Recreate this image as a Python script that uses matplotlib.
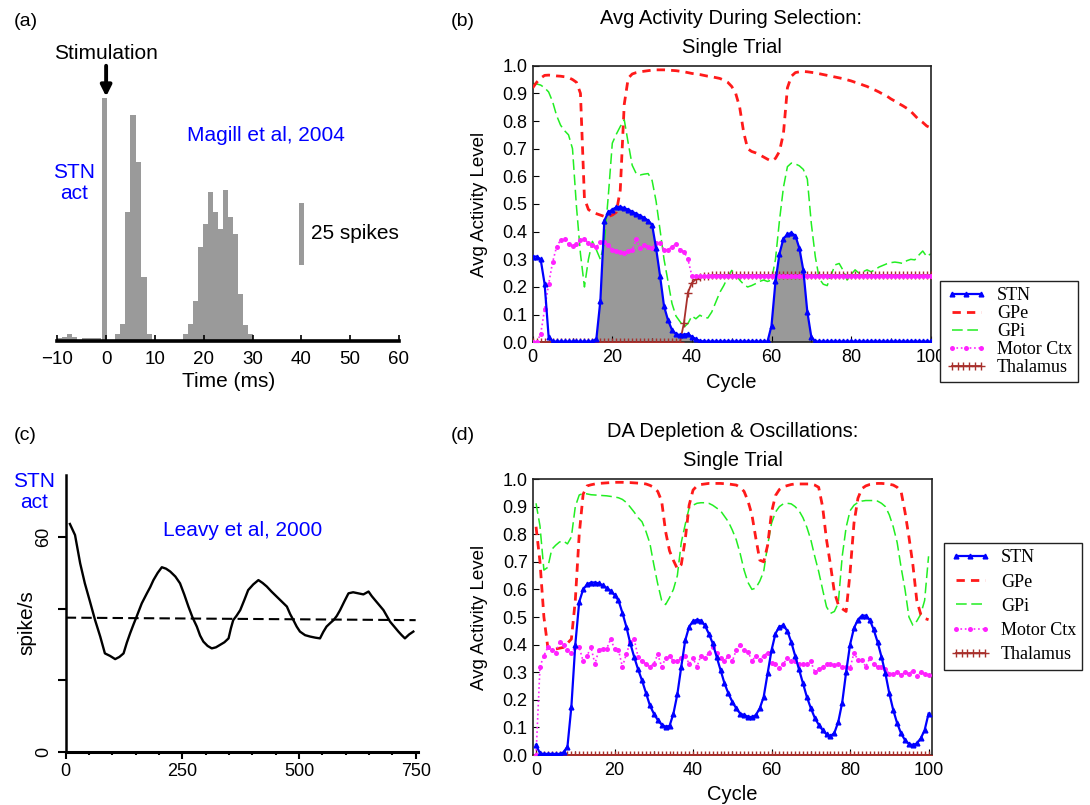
import matplotlib
matplotlib.use('Agg')
import matplotlib.pyplot as plt
from matplotlib.legend_handler import HandlerLine2D
from matplotlib.ticker import FixedLocator
import numpy as np

plt.rcParams['font.family'] = ['Liberation Sans', 'DejaVu Sans']
plt.rcParams['axes.unicode_minus'] = True

# ---------------- Data ----------------
# (a) Magill et al 2004 histogram (ms, spikes)
hist_time = [-9.5, -8.5, -7.5, -6.5, -5.5, -4.5, -3.5, -2.5, -1.5, -0.35, 0.8, 1.5,
             2.3, 3.3, 4.35, 5.5, 6.7, 7.75, 8.8,
             16.28, 17.3, 18.33, 19.35, 20.38, 21.4, 22.4, 23.45, 24.47, 25.5, 26.5,
             27.55, 28.57, 29.6]
hist_counts = [1.3, 1.5, 3.0, 1.5, 0.5, 1.3, 1.3, 1.3, 1.3, 98, 0.6, 0.6,
               3, 7, 52, 91, 72, 26, 3,
               3, 7, 16, 38, 47, 60, 52, 45, 61, 50, 43, 19, 6.3, 3]
time_ticks = [-10, 0, 10, 20, 30, 40, 50, 60]
scale_bar_spikes = 25

# (c) Leavy et al 2000
leavy_t = [9, 20, 31, 41, 52, 63, 74, 84, 95, 106, 115, 124, 131, 138, 145, 152, 163, 174,
           181, 188, 197, 206, 215, 224, 235, 245, 254, 263, 272, 281, 288, 295, 304, 313,
           322, 331, 340, 349, 354, 359, 366, 374, 383, 391, 402, 413, 422, 431, 441, 452,
           463, 474, 481, 488, 495, 502, 513, 524, 535, 545, 552, 559, 567, 574, 581, 588,
           597, 606, 616, 627, 638, 649, 656, 663, 672, 681, 688, 695, 704, 713, 720, 727,
           736, 745]
leavy_rate = [63.7, 60.6, 52.7, 47.1, 42.0, 36.8, 32.2, 27.5, 26.8, 25.9, 26.5, 27.5, 30.5,
              33.1, 35.5, 37.8, 41.5, 44.3, 46.0, 48.0, 50.0, 51.6, 51.2, 50.4, 49.0, 47.1,
              44.0, 40.6, 37.5, 35.0, 32.5, 30.8, 29.6, 28.9, 29.2, 29.9, 30.6, 31.7, 34.5,
              36.8, 38.0, 39.6, 42.5, 45.2, 46.8, 48.0, 47.2, 46.2, 44.8, 43.4, 42.0, 40.6,
              38.5, 36.8, 35.0, 33.6, 32.6, 32.2, 31.9, 31.7, 33.5, 35.0, 36.0, 36.8, 38.0,
              39.6, 42.0, 44.3, 44.6, 44.3, 44.0, 44.8, 43.5, 42.4, 41.0, 39.6, 38.0, 36.4,
              35.0, 33.6, 32.6, 31.7, 32.8, 33.6]
baseline_t = [0, 750]
baseline_rate = [37.5, 36.8]

# (b) Avg activity during selection (cycles 0..100)
cycles = list(range(101))
sel_stn = [0.31, 0.31, 0.30, 0.21, 0.02] + [0.003] * 11 + \
    [0.013, 0.15, 0.44, 0.47, 0.48, 0.488, 0.49, 0.485, 0.48, 0.472, 0.465, 0.458, 0.45,
     0.44, 0.425, 0.34, 0.24, 0.13, 0.08, 0.045, 0.03, 0.026, 0.028, 0.03, 0.02, 0.012,
     0.005] + [0.003] * 17 + \
    [0.06, 0.22, 0.32, 0.375, 0.39, 0.396, 0.385, 0.34, 0.26, 0.11, 0.02] + [0.003] * 30
sel_gpe = [0.92, 0.94, 0.955, 0.965, 0.966, 0.965, 0.963, 0.962, 0.96, 0.957, 0.95, 0.94,
           0.90, 0.52, 0.48, 0.47, 0.465, 0.46, 0.455, 0.455, 0.46, 0.47, 0.55, 0.86, 0.955,
           0.97, 0.975, 0.978, 0.98, 0.982, 0.984, 0.985, 0.985, 0.985, 0.984, 0.983, 0.982,
           0.98, 0.978, 0.975, 0.972, 0.97, 0.968, 0.965, 0.962, 0.96, 0.957, 0.954, 0.948,
           0.94, 0.925, 0.90, 0.85, 0.76, 0.70, 0.69, 0.685, 0.678, 0.67, 0.662, 0.655, 0.665,
           0.69, 0.755, 0.92, 0.962, 0.975, 0.978, 0.979, 0.978, 0.976, 0.974, 0.971, 0.968,
           0.965, 0.962, 0.959, 0.956, 0.953, 0.949, 0.945, 0.94, 0.936, 0.93, 0.925, 0.918,
           0.912, 0.905, 0.897, 0.89, 0.88, 0.872, 0.863, 0.855, 0.846, 0.835, 0.82, 0.805,
           0.795, 0.782, 0.775]
sel_gpi = [0.936, 0.934, 0.93, 0.92, 0.905, 0.87, 0.82, 0.785, 0.765, 0.75, 0.70, 0.49, 0.32,
           0.20, 0.30, 0.365, 0.334, 0.30, 0.36, 0.53, 0.72, 0.752, 0.78, 0.805, 0.72, 0.64,
           0.61, 0.605, 0.608, 0.61, 0.585, 0.51, 0.406, 0.30, 0.22, 0.14, 0.095, 0.075, 0.055,
           0.068, 0.095, 0.085, 0.098, 0.09, 0.088, 0.11, 0.145, 0.18, 0.205, 0.235, 0.26,
           0.245, 0.225, 0.21, 0.20, 0.205, 0.212, 0.22, 0.225, 0.22, 0.225, 0.30, 0.44, 0.56,
           0.635, 0.648, 0.645, 0.638, 0.625, 0.59, 0.43, 0.31, 0.23, 0.21, 0.205, 0.245, 0.28,
           0.285, 0.26, 0.225, 0.245, 0.262, 0.25, 0.255, 0.262, 0.255, 0.262, 0.272, 0.278,
           0.284, 0.288, 0.29, 0.288, 0.285, 0.295, 0.30, 0.298, 0.315, 0.33, 0.31, 0.32]
sel_motor = [0.0, 0.0, 0.03, 0.12, 0.21, 0.29, 0.345, 0.37, 0.375, 0.355, 0.348, 0.355, 0.37,
             0.372, 0.36, 0.35, 0.345, 0.362, 0.364, 0.35, 0.335, 0.33, 0.328, 0.322, 0.33,
             0.333, 0.372, 0.34, 0.352, 0.346, 0.34, 0.36, 0.36, 0.334, 0.334, 0.346, 0.355,
             0.334, 0.328, 0.30, 0.24] + [0.24] * 60
sel_thal = [0.0] * 38 + [0.07, 0.18, 0.215, 0.228, 0.235, 0.238, 0.24] + [0.242] * 56

# (d) DA depletion & oscillations (cycles 0..100)
da_stn = [0.036, 0.006, 0.004, 0.004, 0.004, 0.004, 0.004, 0.01, 0.03, 0.175, 0.40, 0.555,
          0.60, 0.618, 0.625, 0.625, 0.622, 0.615, 0.605, 0.595, 0.58, 0.56, 0.515, 0.465,
          0.405, 0.355, 0.31, 0.27, 0.225, 0.18, 0.15, 0.127, 0.11, 0.103, 0.105, 0.15, 0.22,
          0.32, 0.415, 0.465, 0.485, 0.49, 0.487, 0.47, 0.44, 0.405, 0.356, 0.308, 0.26,
          0.223, 0.193, 0.169, 0.15, 0.145, 0.139, 0.137, 0.145, 0.169, 0.211, 0.296, 0.38,
          0.44, 0.465, 0.47, 0.45, 0.41, 0.36, 0.31, 0.26, 0.21, 0.17, 0.135, 0.11, 0.09,
          0.075, 0.068, 0.08, 0.12, 0.19, 0.30, 0.40, 0.46, 0.49, 0.505, 0.505, 0.49, 0.455,
          0.41, 0.356, 0.296, 0.223, 0.163, 0.115, 0.078, 0.054, 0.04, 0.036, 0.042, 0.06,
          0.09, 0.15]
da_gpe = [0.827, 0.70, 0.50, 0.39, 0.382, 0.384, 0.387, 0.39, 0.405, 0.42, 0.56, 0.80, 0.945,
          0.975, 0.979, 0.982, 0.984, 0.985, 0.986, 0.987, 0.988, 0.988, 0.988, 0.987, 0.987,
          0.986, 0.985, 0.984, 0.982, 0.977, 0.97, 0.955, 0.92, 0.81, 0.74, 0.705, 0.675,
          0.69, 0.78, 0.905, 0.96, 0.975, 0.98, 0.982, 0.984, 0.984, 0.984, 0.984, 0.983,
          0.982, 0.98, 0.978, 0.97, 0.955, 0.92, 0.87, 0.785, 0.706, 0.70, 0.76, 0.88, 0.94,
          0.962, 0.972, 0.976, 0.98, 0.982, 0.982, 0.982, 0.982, 0.982, 0.978, 0.97, 0.90,
          0.78, 0.69, 0.59, 0.545, 0.53, 0.52, 0.66, 0.84, 0.93, 0.965, 0.975, 0.98, 0.982,
          0.984, 0.984, 0.983, 0.981, 0.978, 0.97, 0.955, 0.88, 0.79, 0.69, 0.56, 0.51, 0.495,
          0.49]
da_gpi = [0.912, 0.83, 0.67, 0.68, 0.745, 0.76, 0.772, 0.775, 0.765, 0.79, 0.90, 0.942, 0.948,
          0.946, 0.943, 0.942, 0.941, 0.94, 0.939, 0.937, 0.935, 0.932, 0.926, 0.915, 0.898,
          0.88, 0.86, 0.845, 0.81, 0.767, 0.69, 0.62, 0.56, 0.545, 0.57, 0.60, 0.65, 0.77,
          0.835, 0.895, 0.905, 0.912, 0.914, 0.914, 0.912, 0.905, 0.895, 0.885, 0.865, 0.845,
          0.815, 0.78, 0.73, 0.67, 0.625, 0.60, 0.605, 0.63, 0.665, 0.76, 0.84, 0.88, 0.90,
          0.91, 0.912, 0.91, 0.90, 0.885, 0.86, 0.825, 0.78, 0.72, 0.665, 0.60, 0.537, 0.513,
          0.52, 0.55, 0.72, 0.825, 0.885, 0.905, 0.915, 0.92, 0.922, 0.922, 0.922, 0.92, 0.912,
          0.90, 0.87, 0.827, 0.77, 0.68, 0.60, 0.50, 0.47, 0.485, 0.51, 0.56, 0.72]
da_motor = [0.0, 0.32, 0.36, 0.39, 0.38, 0.37, 0.41, 0.40, 0.38, 0.37, 0.39, 0.39, 0.34, 0.36,
            0.39, 0.33, 0.38, 0.385, 0.385, 0.42, 0.385, 0.38, 0.32, 0.365, 0.41, 0.42, 0.355,
            0.34, 0.33, 0.32, 0.33, 0.365, 0.32, 0.35, 0.36, 0.34, 0.34, 0.35, 0.36, 0.33,
            0.35, 0.32, 0.36, 0.35, 0.37, 0.39, 0.37, 0.35, 0.34, 0.36, 0.34, 0.38, 0.40, 0.38,
            0.375, 0.34, 0.36, 0.345, 0.36, 0.37, 0.335, 0.33, 0.315, 0.33, 0.35, 0.34, 0.34,
            0.33, 0.33, 0.33, 0.34, 0.30, 0.31, 0.32, 0.33, 0.33, 0.325, 0.33, 0.32, 0.32,
            0.315, 0.37, 0.345, 0.345, 0.32, 0.35, 0.33, 0.32, 0.32, 0.31, 0.295, 0.295, 0.30,
            0.29, 0.30, 0.295, 0.305, 0.285, 0.30, 0.295, 0.29]
da_thal = [0.0] * 101

cycle_ticks = [0, 20, 40, 60, 80, 100]
cycle_minor = [10, 30, 50, 70, 90]
level_ticks = [round(0.1 * i, 1) for i in range(11)]
series_labels = ['STN', 'GPe', 'GPi', 'Motor Ctx', 'Thalamus']

# ---------------- Layout helpers ----------------
W, H = 1090, 805
fig = plt.figure(figsize=(W / 100, H / 100), dpi=100)


def rect(l, t, r, b):
    return [l / W, 1 - b / H, (r - l) / W, (b - t) / H]


def ftext(x, y, s, **kw):
    return fig.text(x / W, 1 - y / H, s, **kw)


BLUE = '#0000ff'
GRAY = '#9a9a9a'

# ---------------- (a) ----------------
axA = fig.add_axes(rect(57.3, 40, 399, 341))
axA.bar(hist_time, hist_counts, width=1.05, color=GRAY, edgecolor='none')
axA.bar([40], [scale_bar_spikes], bottom=30.6, width=1.0, color=GRAY, edgecolor='none')
axA.set_xlim(-10, 60)
axA.set_ylim(0, 121.4)
for s in ['top', 'right', 'left']:
    axA.spines[s].set_visible(False)
axA.spines['bottom'].set_linewidth(2.6)
axA.set_yticks([])
axA.set_xticks(time_ticks)
axA.set_xticklabels([('\u2212%d' % -t) if t < 0 else str(t) for t in time_ticks])
axA.tick_params(axis='x', direction='in', length=4, width=1.2, labelsize=13.5, pad=7)
axA.set_xlabel('Time (ms)', fontsize=15, labelpad=3)
axA.text(0, 116, 'Stimulation', ha='center', va='center', fontsize=15, clip_on=False)
axA.annotate('', xy=(0, 98.6), xytext=(0, 111),
             arrowprops=dict(arrowstyle='-|>', color='black', lw=2.8,
                             mutation_scale=16, shrinkA=0, shrinkB=0),
             annotation_clip=False)
axA.text(32.8, 82.7, 'Magill et al, 2004', ha='center', va='center', fontsize=15, color=BLUE)
axA.text(-6.6, 63.7, 'STN\nact', ha='center', va='center', fontsize=15, color=BLUE,
         linespacing=1.15)
axA.text(42.0, 43.5, '25 spikes', ha='left', va='center', fontsize=15)
ftext(14, 22, '(a)', fontsize=14, va='center')


# ---------------- (b) and (d) ----------------
def activity_panel(box, xlim, stn, gpe, gpi, motor, thal, fill=False):
    ax = fig.add_axes(rect(*box))
    if fill:
        s = np.array(stn)
        c = np.array(cycles)
        mask = ((c >= 16) & (c <= 42)) | ((c >= 59) & (c <= 71))
        ax.fill_between(c, 0, s, where=mask, color='#999999', lw=0, zorder=1)
    l_gpi, = ax.plot(cycles, gpi, color='#22ee22', lw=1.1, dashes=(7, 3), zorder=2)
    l_gpe, = ax.plot(cycles, gpe, color='#ff1a1a', lw=2.0, dashes=(3, 2.2), zorder=3)
    l_thal, = ax.plot(cycles, thal, color='#a8302c', lw=1.3, marker='+', ms=6, mew=1.0,
                      zorder=4)
    l_mot, = ax.plot(cycles, motor, color='#ff22ff', lw=1.2, ls=':', marker='o', ms=3.6,
                     mec='none', zorder=5)
    l_stn, = ax.plot(cycles, stn, color=BLUE, lw=1.6, marker='^', ms=3.4, mec=BLUE,
                     zorder=6)
    ax.set_xlim(*xlim)
    ax.set_ylim(0, 1.0)
    ax.set_xticks(cycle_ticks)
    ax.xaxis.set_minor_locator(FixedLocator(cycle_minor))
    ax.set_yticks(level_ticks)
    ax.set_yticklabels(['%.1f' % v for v in level_ticks])
    ax.tick_params(which='both', direction='in', labelsize=13, width=0.8)
    ax.tick_params(which='major', length=4)
    ax.tick_params(which='minor', length=3)
    ax.tick_params(axis='x', pad=5)
    ax.tick_params(axis='y', pad=4)
    for sp in ax.spines.values():
        sp.set_linewidth(1.2)
        sp.set_color('#222222')
    return ax, [l_stn, l_gpe, l_gpi, l_mot, l_thal]


axB, hB = activity_panel((532.7, 65.7, 930.7, 342.3), (0, 100), sel_stn, sel_gpe, sel_gpi,
                         sel_motor, sel_thal, fill=True)
ftext(731.5, 24, 'Avg Activity During Selection:', ha='center', va='baseline', fontsize=14.5)
ftext(731.5, 53, 'Single Trial', ha='center', va='baseline', fontsize=14.5)
ftext(480, 204, 'Avg Activity Level', rotation=90, ha='center', va='center', fontsize=13.5)
ftext(731.5, 388, 'Cycle', ha='center', va='baseline', fontsize=14.5)
ftext(451, 21, '(b)', fontsize=14, va='center')

axD, hD = activity_panel((533.3, 479, 931.7, 755), (-0.7, 100.8), da_stn, da_gpe, da_gpi,
                         da_motor, da_thal)
ftext(732.5, 437, 'DA Depletion & Oscillations:', ha='center', va='baseline', fontsize=14.5)
ftext(732.5, 466, 'Single Trial', ha='center', va='baseline', fontsize=14.5)
ftext(480, 617, 'Avg Activity Level', rotation=90, ha='center', va='center', fontsize=13.5)
ftext(732.5, 800, 'Cycle', ha='center', va='baseline', fontsize=14.5)
ftext(451, 435, '(d)', fontsize=14, va='center')


def add_legend(handles, x, y, spacing):
    leg = fig.legend(handles, series_labels, loc='upper left',
                     bbox_to_anchor=(x / W, 1 - y / H), bbox_transform=fig.transFigure,
                     frameon=True, fancybox=False, shadow=False, edgecolor='#222222',
                     framealpha=1, prop={'family': 'Liberation Serif', 'size': 13},
                     handlelength=2.2, handletextpad=0.6, labelspacing=spacing,
                     borderpad=0.35, borderaxespad=0, numpoints=3,
                     handler_map={handles[4]: HandlerLine2D(numpoints=6)})
    leg.get_frame().set_linewidth(1.0)
    return leg


add_legend(hB, 940, 281, 0.05)
add_legend(hD, 944, 543, 0.4)

# ---------------- (c) ----------------
axC = fig.add_axes(rect(65.7, 475, 418, 751.7))
axC.plot(baseline_t, baseline_rate, color='black', lw=1.5, dashes=(5, 2.5))
axC.plot(leavy_t, leavy_rate, color='black', lw=1.7)
axC.set_xlim(0, 755)
axC.set_ylim(0, 77.4)
for s in ['top', 'right']:
    axC.spines[s].set_visible(False)
axC.spines['left'].set_linewidth(1.8)
axC.spines['bottom'].set_linewidth(2.2)
axC.set_yticks([0, 20, 40, 60])
axC.set_yticklabels(['0', '', '', '60'], rotation=90, va='center')
axC.set_xticks([0, 250, 500, 750])
axC.xaxis.set_minor_locator(FixedLocator([v for v in range(50, 750, 50) if v % 250]))
axC.tick_params(axis='y', direction='out', length=6, width=1.5, labelsize=13, pad=4)
axC.tick_params(axis='x', which='major', direction='out', length=5, width=1.5,
                labelsize=13, pad=3)
axC.tick_params(axis='x', which='minor', direction='out', length=2.5, width=1.5)
ftext(27, 623, 'spike/s', rotation=90, ha='center', va='center', fontsize=15)
ftext(34.5, 492, 'STN\nact', ha='center', va='center', fontsize=15, color=BLUE,
      linespacing=1.15)
ftext(243, 530, 'Leavy et al, 2000', ha='center', va='center', fontsize=15, color=BLUE)
ftext(14, 435, '(c)', fontsize=14, va='center')

fig.savefig('out.png', dpi=100)
